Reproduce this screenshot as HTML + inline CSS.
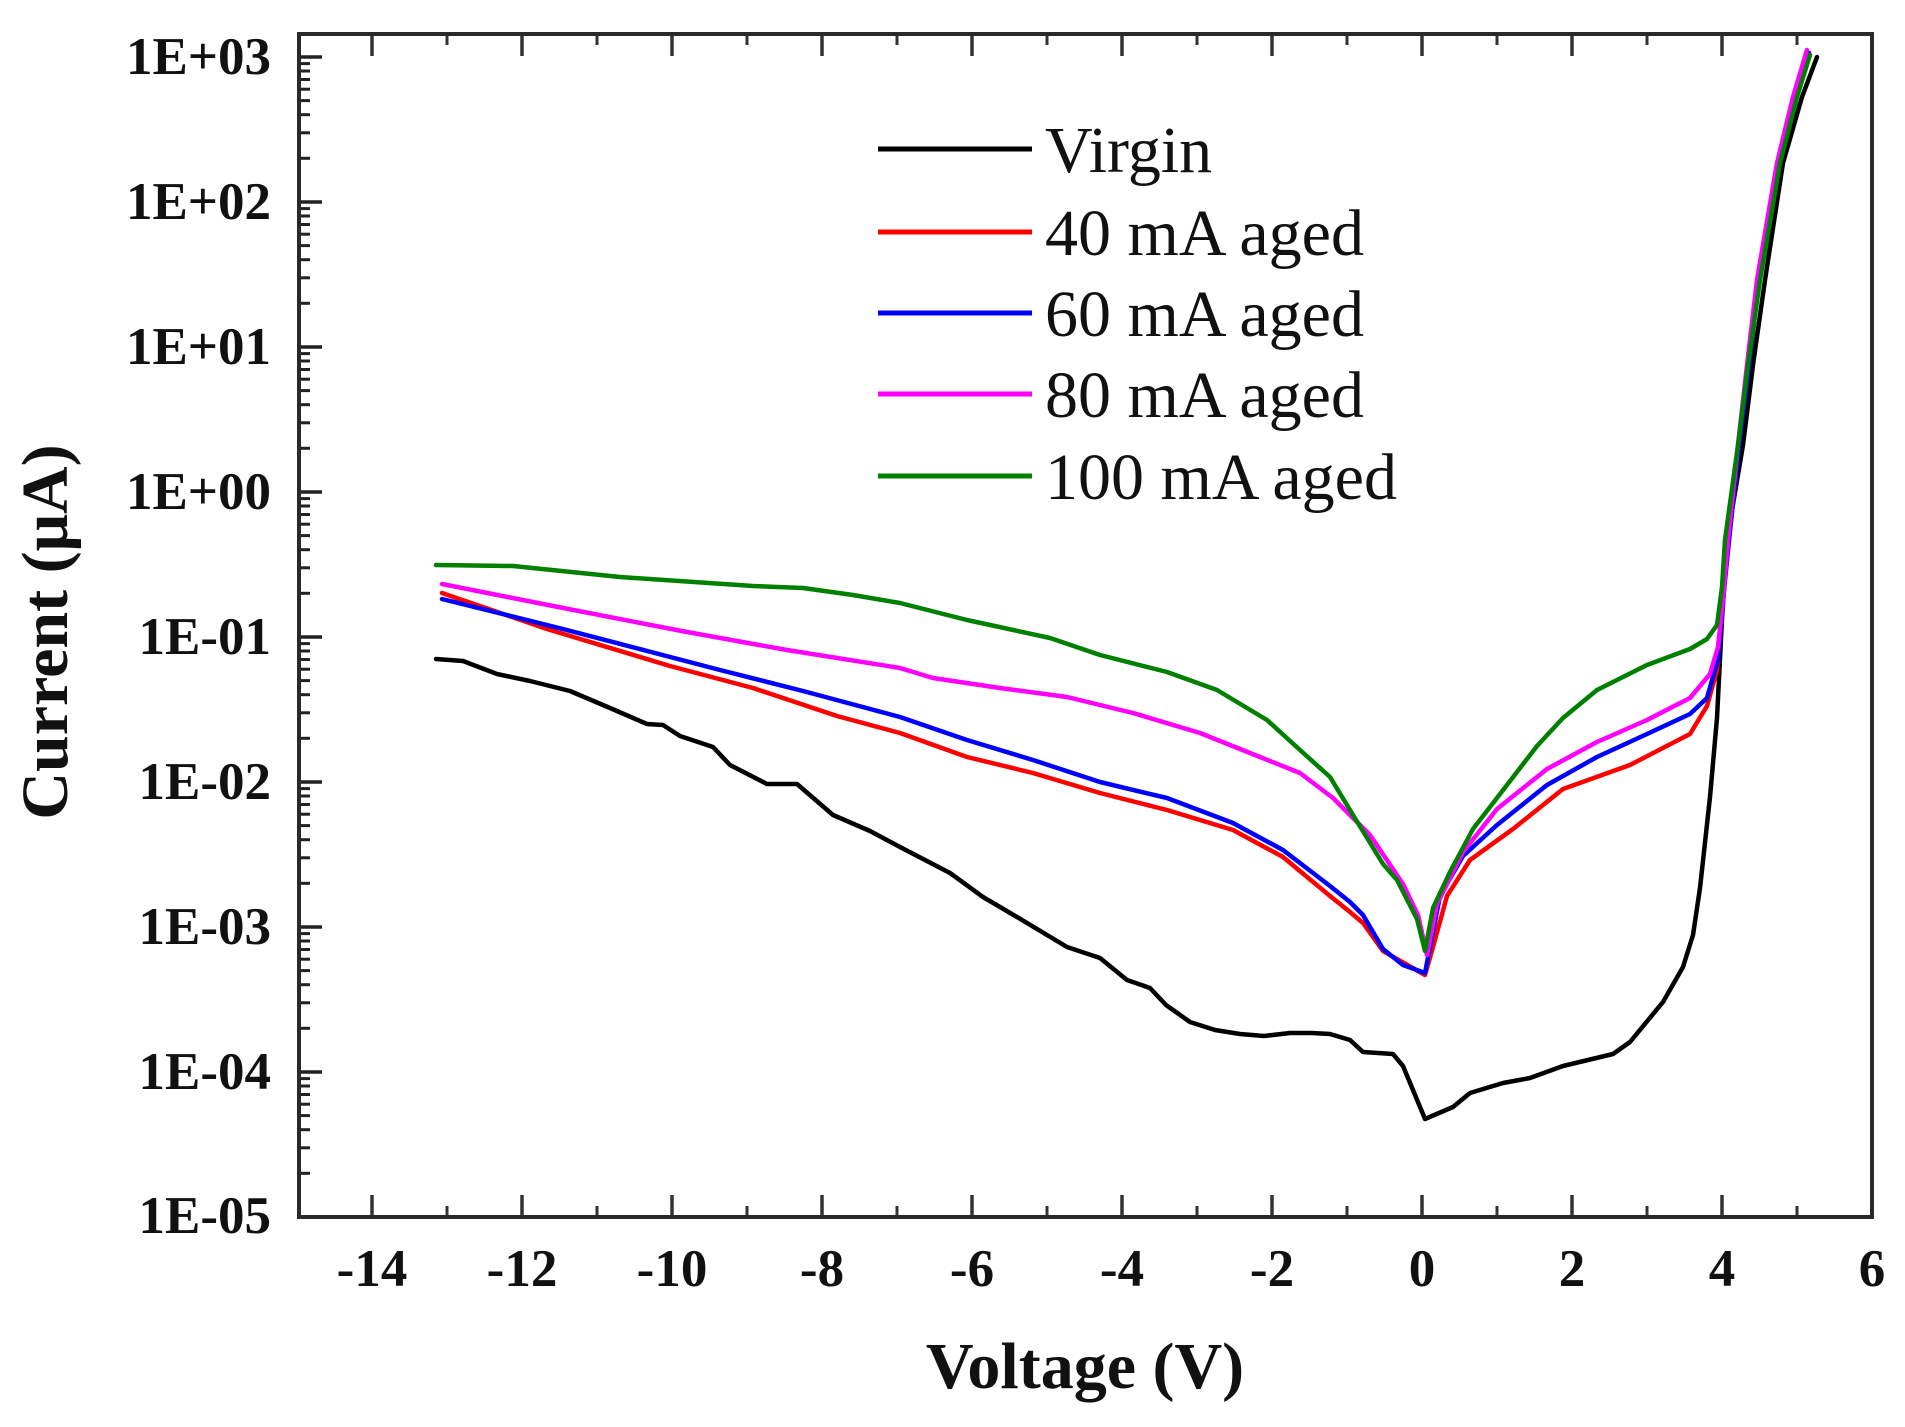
<!DOCTYPE html>
<html>
<head>
<meta charset="utf-8">
<style>
html,body{margin:0;padding:0;background:#fff;}
svg{display:block;}
text{font-family:"Liberation Serif","Times New Roman",serif;fill:#111;}
.tl{font-size:53px;font-weight:bold;}
.ttl{font-size:66px;font-weight:bold;}
.lg{font-size:66px;}
</style>
</head>
<body>
<svg width="1905" height="1427" viewBox="0 0 1905 1427" xmlns="http://www.w3.org/2000/svg">
<rect x="0" y="0" width="1905" height="1427" fill="#fff"/>
<defs>
<g id="dec" stroke="#222" stroke-width="3">
<line x1="299" y1="-43.7" x2="310" y2="-43.7"/>
<line x1="299" y1="-69.2" x2="310" y2="-69.2"/>
<line x1="299" y1="-87.3" x2="310" y2="-87.3"/>
<line x1="299" y1="-101.4" x2="310" y2="-101.4"/>
<line x1="299" y1="-112.8" x2="310" y2="-112.8"/>
<line x1="299" y1="-122.5" x2="310" y2="-122.5"/>
<line x1="299" y1="-131" x2="310" y2="-131"/>
<line x1="299" y1="-138.4" x2="310" y2="-138.4"/>
</g>
</defs>

<!-- minor y ticks -->
<use href="#dec" y="1217"/>
<use href="#dec" y="1072"/>
<use href="#dec" y="927"/>
<use href="#dec" y="782"/>
<use href="#dec" y="637"/>
<use href="#dec" y="492"/>
<use href="#dec" y="347"/>
<use href="#dec" y="202"/>

<!-- major y ticks -->
<g stroke="#222" stroke-width="3.5">
<line x1="299" y1="57" x2="322" y2="57"/>
<line x1="299" y1="202" x2="322" y2="202"/>
<line x1="299" y1="347" x2="322" y2="347"/>
<line x1="299" y1="492" x2="322" y2="492"/>
<line x1="299" y1="637" x2="322" y2="637"/>
<line x1="299" y1="782" x2="322" y2="782"/>
<line x1="299" y1="927" x2="322" y2="927"/>
<line x1="299" y1="1072" x2="322" y2="1072"/>
</g>

<!-- x ticks bottom & top -->
<g stroke="#333" stroke-width="3.5">
<line x1="372" y1="1217" x2="372" y2="1195"/><line x1="372" y1="34" x2="372" y2="56"/>
<line x1="522" y1="1217" x2="522" y2="1195"/><line x1="522" y1="34" x2="522" y2="56"/>
<line x1="672" y1="1217" x2="672" y2="1195"/><line x1="672" y1="34" x2="672" y2="56"/>
<line x1="822" y1="1217" x2="822" y2="1195"/><line x1="822" y1="34" x2="822" y2="56"/>
<line x1="972" y1="1217" x2="972" y2="1195"/><line x1="972" y1="34" x2="972" y2="56"/>
<line x1="1122" y1="1217" x2="1122" y2="1195"/><line x1="1122" y1="34" x2="1122" y2="56"/>
<line x1="1272" y1="1217" x2="1272" y2="1195"/><line x1="1272" y1="34" x2="1272" y2="56"/>
<line x1="1422" y1="1217" x2="1422" y2="1195"/><line x1="1422" y1="34" x2="1422" y2="56"/>
<line x1="1572" y1="1217" x2="1572" y2="1195"/><line x1="1572" y1="34" x2="1572" y2="56"/>
<line x1="1722" y1="1217" x2="1722" y2="1195"/><line x1="1722" y1="34" x2="1722" y2="56"/>
</g>
<g stroke="#333" stroke-width="3">
<line x1="447" y1="1217" x2="447" y2="1206"/><line x1="447" y1="34" x2="447" y2="45"/>
<line x1="597" y1="1217" x2="597" y2="1206"/><line x1="597" y1="34" x2="597" y2="45"/>
<line x1="747" y1="1217" x2="747" y2="1206"/><line x1="747" y1="34" x2="747" y2="45"/>
<line x1="897" y1="1217" x2="897" y2="1206"/><line x1="897" y1="34" x2="897" y2="45"/>
<line x1="1047" y1="1217" x2="1047" y2="1206"/><line x1="1047" y1="34" x2="1047" y2="45"/>
<line x1="1197" y1="1217" x2="1197" y2="1206"/><line x1="1197" y1="34" x2="1197" y2="45"/>
<line x1="1347" y1="1217" x2="1347" y2="1206"/><line x1="1347" y1="34" x2="1347" y2="45"/>
<line x1="1497" y1="1217" x2="1497" y2="1206"/><line x1="1497" y1="34" x2="1497" y2="45"/>
<line x1="1647" y1="1217" x2="1647" y2="1206"/><line x1="1647" y1="34" x2="1647" y2="45"/>
<line x1="1797" y1="1217" x2="1797" y2="1206"/><line x1="1797" y1="34" x2="1797" y2="45"/>
</g>

<!-- frame -->
<rect x="299" y="34" width="1573" height="1183" fill="none" stroke="#2a2a2a" stroke-width="4"/>

<!-- data curves -->
<g fill="none" stroke-width="4.5" stroke-linejoin="round" stroke-linecap="round">
<path stroke="#000" d="M436,659 L463,661 L497,674 L530,681 L570,691 L610,708 L647,724 L663,725 L680,736 L713,747 L730,765 L767,784 L797,784 L833,815 L870,831 L900,847 L950,873 L983,897 L1017,917 L1067,947 L1100,958 L1127,980 L1150,988 L1166,1005 L1190,1022 L1215,1030 L1240,1034 L1264,1036 L1290,1033 L1312,1033 L1330,1034 L1350,1040 L1363,1052 L1393,1054 L1403,1066 L1425,1119 L1453,1107 L1470,1093 L1503,1083 L1530,1078 L1563,1066 L1613,1054 L1630,1042 L1663,1002 L1683,967 L1693,935 L1700,888 L1710,797 L1717,718 L1722,619 L1727,540 L1743,445 L1753,365 L1765,280 L1783,163 L1802,97 L1817,57"/>
<path stroke="#ff0000" d="M442,593 L547,629 L670,666 L753,688 L837,716 L900,733 L967,757 L1033,773 L1100,793 L1167,810 L1233,830 L1283,857 L1330,896 L1350,912 L1363,923 L1383,951 L1425,975 L1433,947 L1447,896 L1470,860 L1513,829 L1563,789 L1630,765 L1690,734 L1707,706 L1717,670 L1723,599 L1729,540 L1739,445 L1749,365 L1759,280 L1779,163 L1796,97 L1809,53"/>
<path stroke="#0000ff" d="M442,599 L563,629 L720,670 L803,691 L900,717 L967,740 L1033,760 L1100,782 L1167,798 L1233,823 L1283,850 L1330,886 L1350,902 L1363,915 L1383,949 L1403,965 L1425,973 L1430,947 L1440,896 L1463,856 L1497,825 L1547,785 L1597,757 L1647,734 L1690,714 L1707,698 L1718,659 L1725,580 L1729,540 L1739,445 L1749,365 L1759,280 L1779,163 L1796,97 L1809,53"/>
<path stroke="#ff00ff" d="M442,584 L553,606 L687,632 L787,650 L900,668 L933,678 L1000,688 L1067,697 L1133,713 L1200,733 L1250,753 L1300,773 L1333,798 L1370,835 L1403,884 L1418,915 L1427,955 L1437,904 L1463,852 L1497,809 L1547,769 L1597,742 L1647,720 L1690,698 L1710,674 L1718,647 L1723,599 L1728,540 L1738,445 L1747,365 L1757,280 L1777,163 L1793,97 L1807,50"/>
<path stroke="#008000" d="M436,565 L513,566 L620,577 L753,586 L803,588 L853,595 L900,603 L967,620 L1050,638 L1100,655 L1167,672 L1217,690 L1267,720 L1300,750 L1330,777 L1350,810 L1383,864 L1397,880 L1417,919 L1425,951 L1433,908 L1450,872 L1473,829 L1507,785 L1537,746 L1563,718 L1597,690 L1647,665 L1690,649 L1707,639 L1717,625 L1722,587 L1725,540 L1738,445 L1748,365 L1760,280 L1780,163 L1797,97 L1810,55"/>
</g>

<!-- y tick labels -->
<g class="tl" text-anchor="end">
<text x="271" y="74">1E+03</text>
<text x="271" y="219">1E+02</text>
<text x="271" y="364">1E+01</text>
<text x="271" y="509">1E+00</text>
<text x="271" y="654">1E-01</text>
<text x="271" y="799">1E-02</text>
<text x="271" y="944">1E-03</text>
<text x="271" y="1089">1E-04</text>
<text x="271" y="1233">1E-05</text>
</g>

<!-- x tick labels -->
<g class="tl" text-anchor="middle">
<text x="372" y="1286">-14</text>
<text x="522" y="1286">-12</text>
<text x="672" y="1286">-10</text>
<text x="822" y="1286">-8</text>
<text x="972" y="1286">-6</text>
<text x="1122" y="1286">-4</text>
<text x="1272" y="1286">-2</text>
<text x="1422" y="1286">0</text>
<text x="1572" y="1286">2</text>
<text x="1722" y="1286">4</text>
<text x="1872" y="1286">6</text>
</g>

<!-- axis titles -->
<text class="ttl" x="1085" y="1388" text-anchor="middle">Voltage (V)</text>
<text class="ttl" x="0" y="0" text-anchor="middle" transform="translate(67,632) rotate(-90)">Current (μA)</text>

<!-- legend -->
<g stroke-width="5" stroke-linecap="butt">
<line x1="878" y1="149" x2="1032" y2="149" stroke="#000"/>
<line x1="878" y1="232" x2="1032" y2="232" stroke="#ff0000"/>
<line x1="878" y1="313" x2="1032" y2="313" stroke="#0000ff"/>
<line x1="878" y1="394" x2="1032" y2="394" stroke="#ff00ff"/>
<line x1="878" y1="476" x2="1032" y2="476" stroke="#008000"/>
</g>
<g class="lg">
<text x="1045" y="172">Virgin</text>
<text x="1045" y="255">40 mA aged</text>
<text x="1045" y="336">60 mA aged</text>
<text x="1045" y="417">80 mA aged</text>
<text x="1045" y="499">100 mA aged</text>
</g>
</svg>
</body>
</html>
